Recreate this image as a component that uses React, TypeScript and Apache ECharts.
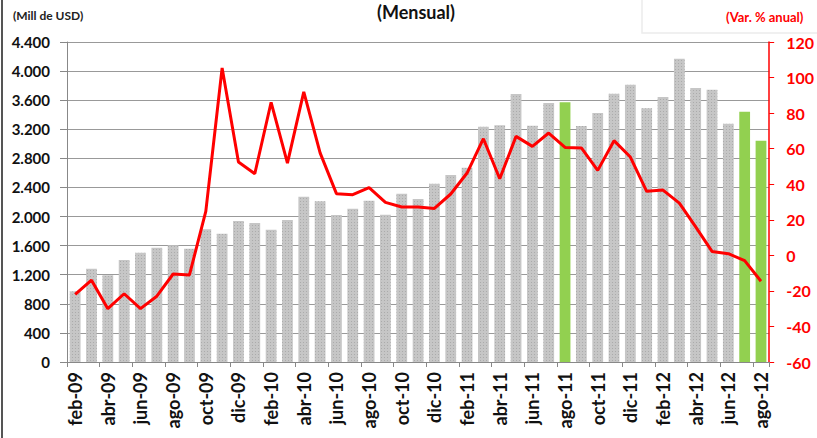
import React, { useEffect, useRef } from "react";
import * as echarts from "echarts";

const categories = [
  "feb-09", "mar-09", "abr-09", "may-09", "jun-09", "jul-09", "ago-09", "sep-09", "oct-09", "nov-09", "dic-09",
  "ene-10", "feb-10", "mar-10", "abr-10", "may-10", "jun-10", "jul-10", "ago-10", "sep-10", "oct-10", "nov-10", "dic-10",
  "ene-11", "feb-11", "mar-11", "abr-11", "may-11", "jun-11", "jul-11", "ago-11", "sep-11", "oct-11", "nov-11", "dic-11",
  "ene-12", "feb-12", "mar-12", "abr-12", "may-12", "jun-12", "jul-12", "ago-12",
];

const montoMillUSD = [
  972, 1283, 1192, 1402, 1503, 1572, 1604, 1558, 1824, 1765, 1939,
  1911, 1820, 1952, 2273, 2209, 2021, 2108, 2218, 2026, 2314, 2241, 2452,
  2571, 2672, 3236, 3254, 3685, 3249, 3561, 3570, 3245, 3424, 3689, 3813,
  3488, 3643, 4171, 3767, 3744, 3277, 3442, 3043,
];

const varPctAnual = [
  -22, -14, -30, -21.6, -30, -23, -10.5, -11, 24.7, 105.4, 52.5,
  45.9, 86.1, 51.9, 91.9, 57.6, 34.7, 34.1, 38.1, 29.8, 27.2, 27.2, 26.4,
  34.5, 46.3, 65.6, 43.1, 66.9, 61.3, 68.8, 60.7, 60.4, 47.8, 64.5, 55.3,
  36, 36.7, 29.4, 16, 2.2, 0.9, -3, -14.6,
];

const highlighted = ["ago-11", "jul-12", "ago-12"];

const FONT = "Lato, 'Open Sans', sans-serif";

export default function App() {
  const ref = useRef<HTMLDivElement>(null);
  useEffect(() => {
    if (!ref.current) return;
    const chart = echarts.init(ref.current, null, { renderer: "svg" });
    const grayDecal = {
      symbol: "rect",
      symbolSize: 1,
      color: "rgba(120,120,120,0.35)",
      dashArrayX: [1, 2],
      dashArrayY: [1, 2],
      rotation: 0,
    };
    const barData = montoMillUSD.map((v, i) =>
      highlighted.includes(categories[i])
        ? { value: v, itemStyle: { color: "#92d050", decal: { symbol: "none" } } }
        : { value: v, itemStyle: { color: "#c6c6c6", decal: grayDecal } }
    );
    chart.setOption({
      animation: false,
      backgroundColor: "#ffffff",
      textStyle: { fontFamily: FONT },
      grid: { left: 67, right: 42, top: 42, bottom: 76, containLabel: false },
      graphic: [
        { type: "line", shape: { x1: 2, y1: 0, x2: 2, y2: 438 }, style: { stroke: "#555", lineWidth: 2 } },
        { type: "rect", shape: { x: 642, y: -2, width: 180, height: 35 }, style: { fill: "none", stroke: "#ececec", lineWidth: 1.5 } },
        { type: "text", x: 13, y: 9, style: { text: "(Mill de USD)", font: `bold 12px ${FONT}`, fill: "#222" } },
        { type: "text", x: 726, y: 10, style: { text: "(Var. % anual)", font: `bold 13px ${FONT}`, fill: "#ff0000" } },
        { type: "text", x: 416, y: 3, style: { text: "(Mensual)", font: `bold 18px ${FONT}`, fill: "#111", align: "center" } },
      ],
      xAxis: {
        type: "category",
        data: categories,
        boundaryGap: true,
        axisLine: { lineStyle: { color: "#888", width: 1 } },
        axisTick: { show: true, interval: 1, length: 5, lineStyle: { color: "#888" } },
        axisLabel: {
          interval: 1,
          rotate: 90,
          margin: 10,
          color: "#111",
          fontWeight: "bold",
          fontSize: 18,
          fontFamily: FONT,
        },
        splitLine: { show: false },
      },
      yAxis: [
        {
          type: "value",
          min: 0,
          max: 4400,
          interval: 400,
          axisLine: { show: true, lineStyle: { color: "#888" } },
          axisTick: { show: true, inside: false, length: 7, lineStyle: { color: "#888" } },
          splitLine: { show: true, lineStyle: { color: "#999", width: 1 } },
          axisLabel: {
            margin: 17,
            color: "#111",
            fontWeight: "bold",
            fontSize: 15,
            fontFamily: FONT,
            formatter: (v: number) => v.toString().replace(/\B(?=(\d{3})+(?!\d))/g, "."),
          },
        },
        {
          type: "value",
          min: -60,
          max: 120,
          interval: 20,
          position: "right",
          alignTicks: false,
          axisLine: { show: true, lineStyle: { color: "#ff0000", width: 1.5 } },
          axisTick: { show: true, inside: false, length: 5, lineStyle: { color: "#ff0000" } },
          splitLine: { show: false },
          axisLabel: {
            margin: 17,
            color: "#ff0000",
            fontWeight: "bold",
            fontSize: 16,
            fontFamily: FONT,
          },
        },
      ],
      series: [
        {
          name: "Mill de USD",
          type: "bar",
          yAxisIndex: 0,
          data: barData,
          barCategoryGap: "34%",
        },
        {
          name: "Var. % anual",
          type: "line",
          yAxisIndex: 1,
          data: varPctAnual,
          showSymbol: false,
          symbol: "none",
          lineStyle: { color: "#ff0000", width: 3 },
          itemStyle: { color: "#ff0000" },
          z: 5,
        },
      ],
    });
    return () => chart.dispose();
  }, []);
  return (
    <div
      ref={ref}
      style={{ position: "fixed", left: 0, top: 0, width: 817, height: 438, background: "#fff" }}
    />
  );
}
